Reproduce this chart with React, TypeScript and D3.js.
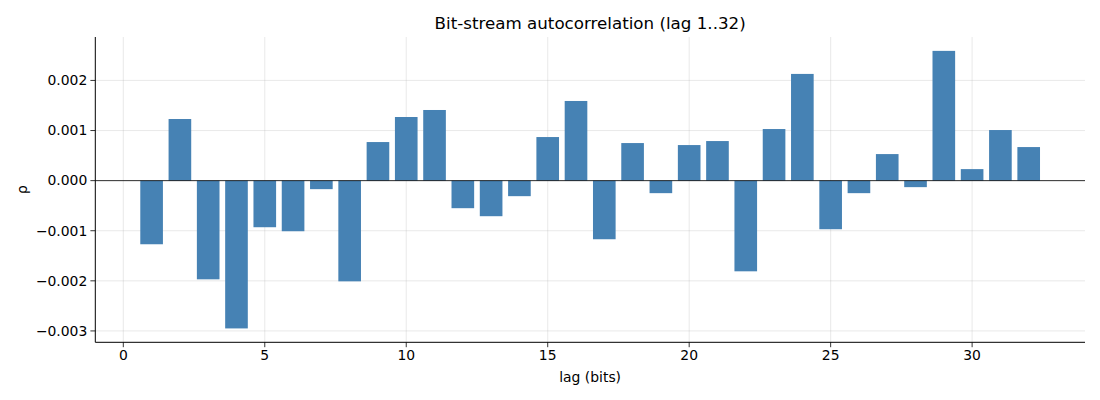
import React from "react";
import * as d3 from "d3";

const lags = d3.range(1, 33);
const rho = [
  -1.27, 1.23, -1.97, -2.95, -0.93, -1.01, -0.17, -2.01,
  0.77, 1.27, 1.41, -0.55, -0.71, -0.31, 0.87, 1.59,
  -1.17, 0.75, -0.25, 0.71, 0.79, -1.81, 1.03, 2.13,
  -0.97, -0.25, 0.53, -0.13, 2.59, 0.23, 1.01, 0.67,
].map((v) => v * 1e-3);
const xTicks = [0, 5, 10, 15, 20, 25, 30];
const yTicks = [-0.003, -0.002, -0.001, 0, 0.001, 0.002];

const W = 1100, H = 400;
const L = 95.3, R = 1085, T = 37, B = 342.3;
const FONT = "DejaVu Sans, sans-serif";

export default function App() {
  const barW = 0.8;
  const x0 = 1 - barW / 2, x1 = 32 + barW / 2;
  const xm = (x1 - x0) * 0.05;
  const x = d3.scaleLinear().domain([x0 - xm, x1 + xm]).range([L, R]);
  const ymin = d3.min(rho)!, ymax = d3.max(rho)!;
  const ym = (ymax - ymin) * 0.05;
  const y = d3.scaleLinear().domain([ymin - ym, ymax + ym]).range([B, T]);
  const fmt = (v: number) => d3.format(".3f")(v).replace("-", "\u2212");
  return (
    <svg width={W} height={H} style={{ position: "absolute", left: 0, top: 0, background: "#fff" }} fontFamily={FONT}>
      <rect x={0} y={0} width={W} height={H} fill="#fff" />
      {xTicks.map((t) => (
        <line key={"gx" + t} x1={x(t)} x2={x(t)} y1={T} y2={B} stroke="#b0b0b0" strokeOpacity={0.35} strokeWidth={0.8} />
      ))}
      {yTicks.map((t) => (
        <line key={"gy" + t} x1={L} x2={R} y1={y(t)} y2={y(t)} stroke="#b0b0b0" strokeOpacity={0.35} strokeWidth={0.8} />
      ))}
      {lags.map((l, i) => {
        const v = rho[i];
        return (
          <rect
            key={l}
            x={x(l - barW / 2)}
            width={x(l + barW / 2) - x(l - barW / 2)}
            y={Math.min(y(v), y(0))}
            height={Math.abs(y(v) - y(0))}
            fill="#4682b4"
          />
        );
      })}
      <line x1={L} x2={R} y1={y(0)} y2={y(0)} stroke="#000" strokeWidth={0.8} />
      <line x1={L} x2={L} y1={T} y2={B} stroke="#000" strokeWidth={1} />
      <line x1={L} x2={R} y1={B} y2={B} stroke="#000" strokeWidth={1} />
      {xTicks.map((t) => (
        <g key={"tx" + t}>
          <line x1={x(t)} x2={x(t)} y1={B} y2={B + 4.9} stroke="#000" strokeWidth={0.8} />
          <text x={x(t)} y={B + 18} textAnchor="middle" fontSize={13.9} fill="#000">{t}</text>
        </g>
      ))}
      {yTicks.map((t) => (
        <g key={"ty" + t}>
          <line x1={L - 4.9} x2={L} y1={y(t)} y2={y(t)} stroke="#000" strokeWidth={0.8} />
          <text x={L - 8} y={y(t)} dy="0.35em" textAnchor="end" fontSize={13.9} fill="#000">{fmt(t)}</text>
        </g>
      ))}
      <text x={(L + R) / 2} y={382} textAnchor="middle" fontSize={13.9} fill="#000">lag (bits)</text>
      <text transform={`translate(27, ${(T + B) / 2}) rotate(-90)`} textAnchor="middle" fontSize={13.9} fill="#000">ρ</text>
      <text x={(L + R) / 2} y={29} textAnchor="middle" fontSize={16.7} fill="#000">Bit-stream autocorrelation (lag 1..32)</text>
    </svg>
  );
}
